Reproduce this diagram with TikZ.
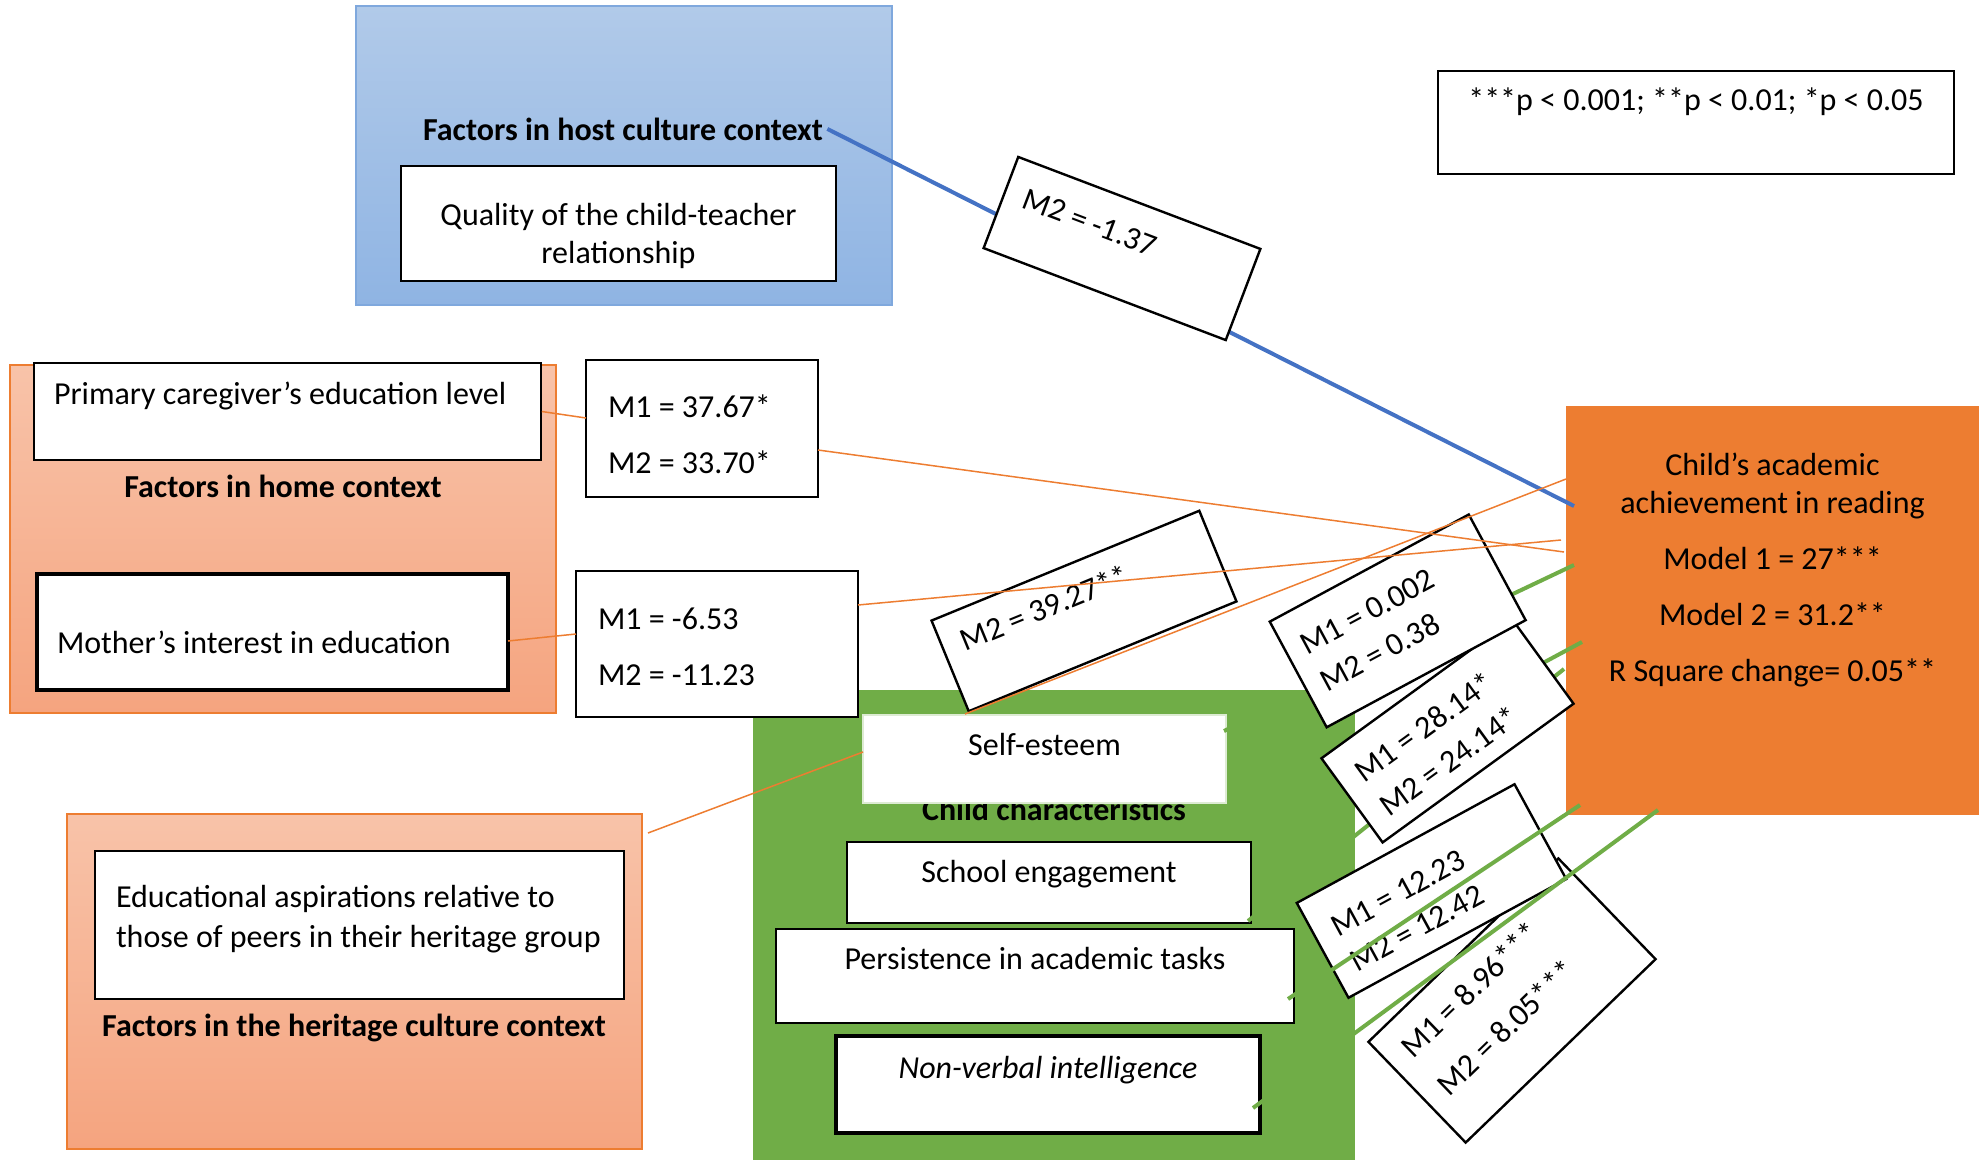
\documentclass[tikz,border=0pt]{standalone}
\usepackage{fontspec}
\setmainfont{Carlito}
\usetikzlibrary{calc}

\definecolor{cblue}{HTML}{4472C4}
\definecolor{corange}{HTML}{ED7D31}
\definecolor{cgreen}{HTML}{70AD47}
\definecolor{hosttop}{HTML}{B1CAE9}
\definecolor{hostbot}{HTML}{8FB4E3}
\definecolor{hostline}{HTML}{7FA8DD}
\definecolor{peachtop}{HTML}{F8C3A9}
\definecolor{peachbot}{HTML}{F5A47F}
\definecolor{selfline}{HTML}{DDEBD3}

% fixed-size text block: width, height, paragraph setup, depth of first baseline, text
\newcommand\boxtxt[5]{\parbox[c][#2][t]{#1}{#3\rule{0pt}{#4}#5}}

\tikzset{
  ctx/.style={inner sep=0pt, draw=corange, line width=0.6pt, top color=peachtop, bottom color=peachbot},
  hostctx/.style={inner sep=0pt, draw=hostline, line width=0.6pt, top color=hosttop, bottom color=hostbot},
  wbox/.style={draw=black, line width=0.8pt, fill=white, inner sep=0pt},
  heavybox/.style={wbox, line width=1.6pt},
  rbox/.style={draw=black, line width=1.2pt, fill=white, inner sep=0pt},
  ttl/.style={font=\fontsize{16}{19}\selectfont\bfseries, inner sep=2pt, anchor=base},
  oline/.style={draw=corange, line width=0.75pt},
  gline/.style={draw=cgreen, line width=2pt},
  bline/.style={draw=cblue, line width=2pt},
}

\begin{document}
\begin{tikzpicture}[x=0.5pt, y=-0.5pt, every node/.style={font=\fontsize{16}{19}\selectfont}]
\useasboundingbox (0,0) rectangle (1982,1163);

% ---------- context panels ----------
\node[hostctx, minimum width=268pt, minimum height=149.5pt] (host) at (624,155.5) {};
\node[ctx, minimum width=273pt, minimum height=174pt] (home) at (283,539) {};
\node[ctx, minimum width=287.5pt, minimum height=167.5pt] (herit) at (354.5,981.5) {};
\node[fill=cgreen, inner sep=0pt, minimum width=301pt, minimum height=235pt] (child) at (1054,925) {};

% ---------- outcome and legend ----------
\node[fill=corange, inner sep=0pt] (ach) at (1772.5,610.5)
  {\boxtxt{206.5pt}{204.5pt}{\centering\baselineskip=19pt\relax}{34.5pt}%
   {Child’s academic\\achievement in reading\\[9pt]Model 1 = 27***\\[9pt]Model 2 = 31.2**\\[9pt]R Square change= 0.05**}};
\node[wbox] (legend) at (1696,122.5)
  {\boxtxt{258pt}{51.5pt}{\centering}{19.5pt}{***p < 0.001; **p < 0.01; *p < 0.05}};

% ---------- host culture context ----------
\node[ttl] (hostT) at (623,140) {Factors in host culture context};
\node[wbox] (qual) at (618.5,223.5)
  {\boxtxt{217.5pt}{57.5pt}{\centering\baselineskip=19pt\relax}{29.5pt}{Quality of the child-teacher\\relationship}};

% ---------- home context ----------
\node[wbox] (prim) at (287.5,411.5)
  {\boxtxt{253.5pt}{48.5pt}{\leftskip=10pt\relax}{20.5pt}{Primary caregiver’s education level}};
\node[ttl] (homeT) at (283,497) {Factors in home context};
\node[heavybox] (mother) at (272.5,632)
  {\boxtxt{235.5pt}{58pt}{\leftskip=10pt\relax}{39.5pt}{Mother’s interest in education}};
\node[wbox] (coefA) at (702,428.5)
  {\boxtxt{116pt}{68.5pt}{\leftskip=11pt\baselineskip=28pt\relax}{28.5pt}{M1 = 37.67*\\M2 = 33.70*}};
\node[wbox] (coefB) at (717,644)
  {\boxtxt{141pt}{73pt}{\leftskip=11pt\baselineskip=28pt\relax}{29pt}{M1 = -6.53\\M2 = -11.23}};

% ---------- heritage culture context ----------
\node[wbox] (aspir) at (359.5,925)
  {\boxtxt{264.5pt}{74pt}{\leftskip=10.5pt\baselineskip=20pt\relax}{28pt}{Educational aspirations relative to\\those of peers in their heritage group}};
\node[ttl] (heritT) at (354,1036) {Factors in the heritage culture context};

% ---------- child characteristics ----------
\node[ttl] (childT) at (1054,820) {Child characteristics};
\node[fill=white, draw=selfline, line width=0.6pt, inner sep=0pt] (self) at (1044.5,759)
  {\boxtxt{181.5pt}{44pt}{\centering}{20pt}{Self-esteem}};
\node[wbox] (school) at (1049,882.5)
  {\boxtxt{202pt}{40.5pt}{\centering}{20pt}{School engagement}};
\node[wbox] (persist) at (1035,976)
  {\boxtxt{259pt}{47pt}{\centering}{20pt}{Persistence in academic tasks}};
\node[heavybox] (nonverb) at (1048,1084.5)
  {\boxtxt{212pt}{48.5pt}{\centering}{21pt}{\itshape Non-verbal intelligence}};

% ---------- connector end points ----------
\coordinate (bEnd) at (1574,506);
\coordinate (selfR) at (1224,731);
\coordinate (schoolR) at (1248,921);
\coordinate (childR) at (1355,764);
\coordinate (persistR) at (1288,999);
\coordinate (nonverbR) at (1253,1108);
\coordinate (gEndA) at (1574,565);
\coordinate (gEndB) at (1564,669);
\coordinate (gEndC) at (1582,642);
\coordinate (gEndD) at (1580,805);
\coordinate (gEndE) at (1658,810);
\coordinate (coefAin) at (586,418);
\coordinate (coefAout) at (818,450);
\coordinate (oEndA) at (1564,552);
\coordinate (motherR) at (508,641);
\coordinate (coefBin) at (576,634);
\coordinate (coefBout) at (858,605);
\coordinate (oEndB) at (1561,540);
\coordinate (heritR) at (648,833);
\coordinate (selfL) at (863,752);
\coordinate (selfT) at (965,714);
\coordinate (oEndC) at (1566,479);

% paths running beneath the coefficient labels
\draw[bline] (hostT.east) -- (bEnd);
\draw[gline] (selfR) -- (gEndA);
\draw[gline] (schoolR) -- (gEndB);
\draw[gline] (childR) -- (gEndC);

% ---------- rotated coefficient labels ----------
\node[rbox, rotate=44] (coefNV) at (1512,1000.5)
  {\boxtxt{132pt}{70pt}{\leftskip=10pt\baselineskip=26pt\relax}{22pt}{M1 = 8.96***\\M2 = 8.05***}};
\node[rbox, rotate=28.6] (coefPT) at (1431.5,891)
  {\boxtxt{124pt}{54pt}{\leftskip=10pt\baselineskip=20pt\relax}{25pt}{M1 = 12.23\\M2 = 12.42}};
\node[rbox, rotate=36] (coefSE) at (1447.5,731)
  {\boxtxt{118pt}{52pt}{\leftskip=10pt\baselineskip=21pt\relax}{23pt}{M1 = 28.14*\\M2 = 24.14*}};
\node[rbox, rotate=28.3] (coefST) at (1397.7,620.9)
  {\boxtxt{113pt}{60pt}{\leftskip=8.5pt\baselineskip=21pt\relax}{24pt}{M1 = 0.002\\M2 = 0.38}};
\node[rbox, rotate=22.3] (coefAS) at (1084,611)
  {\boxtxt{144.7pt}{49pt}{\leftskip=10pt\relax}{21pt}{M2 = 39.27**}};
\node[rbox, rotate=-20.8] (coefQ) at (1122,248.5)
  {\boxtxt{129.5pt}{48.75pt}{\leftskip=10pt\relax}{23pt}{M2 = -1.37}};

% paths drawn over the labels
\draw[gline] (persistR) -- (gEndD);
\draw[gline] (nonverbR) -- (gEndE);
\draw[oline] (prim.east) -- (coefAin);
\draw[oline] (coefAout) -- (oEndA);
\draw[oline] (motherR) -- (coefBin);
\draw[oline] (coefBout) -- (oEndB);
\draw[oline] (heritR) -- (selfL);
\draw[oline] (selfT) -- (oEndC);
\end{tikzpicture}
\end{document}
